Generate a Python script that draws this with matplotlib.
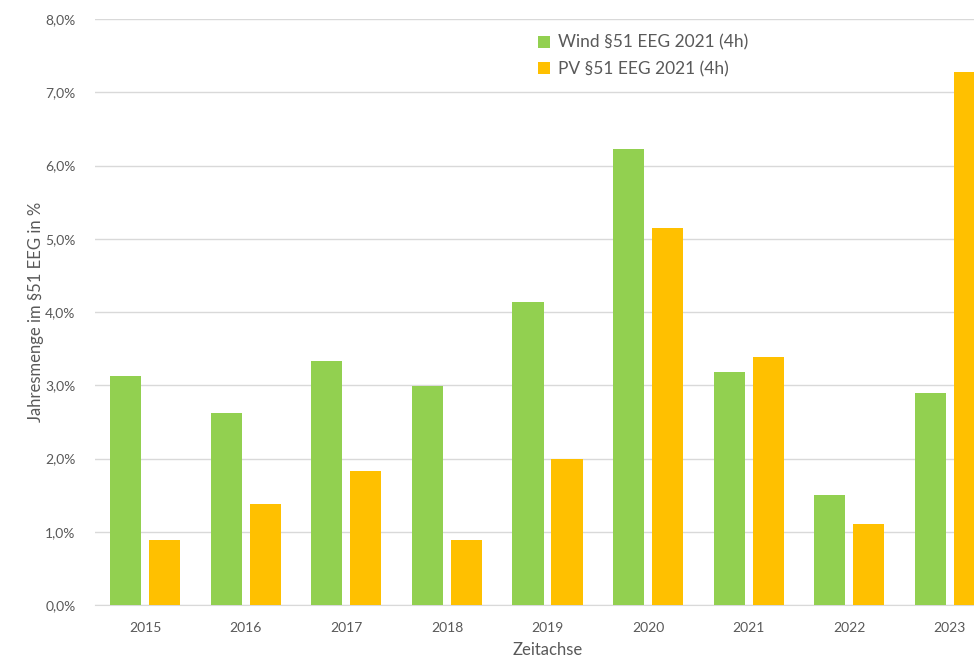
import numpy as np
import matplotlib.pyplot as plt
from matplotlib.ticker import FuncFormatter, MultipleLocator

years = ['2015', '2016', '2017', '2018', '2019', '2020', '2021', '2022', '2023']
wind = [3.13, 2.62, 3.33, 2.99, 4.14, 6.23, 3.18, 1.50, 2.89]
pv = [0.89, 1.38, 1.83, 0.89, 1.99, 5.14, 3.38, 1.11, 7.27]

green = '#92D050'
orange = '#FFC000'
grey = '#595959'

plt.rcParams['font.family'] = ['Lato', 'DejaVu Sans']

fig = plt.figure(figsize=(9.74, 6.61), dpi=100)
# axes run past the right edge, like the cropped original
ax = fig.add_axes([95/974, 56/661, 905/974, 586/661])

x = np.arange(len(years))
w = 0.31
ax.bar(x - 0.194, wind, w, color=green, label='Wind §51 EEG 2021 (4h)', zorder=3)
ax.bar(x + 0.194, pv, w, color=orange, label='PV §51 EEG 2021 (4h)', zorder=3)

ax.set_xlim(-0.5, 8.5)
ax.set_ylim(0, 8)
ax.yaxis.set_major_locator(MultipleLocator(1))
ax.yaxis.set_major_formatter(FuncFormatter(lambda v, p: f'{v:.1f}%'.replace('.', ',')))
ax.set_xticks(x)
ax.set_xticklabels(years)
ax.grid(axis='y', color='#D9D9D9', linewidth=1, zorder=0)
for s in ['top', 'right', 'left']:
    ax.spines[s].set_visible(False)
ax.spines['bottom'].set_color('#D9D9D9')
ax.tick_params(axis='both', length=0, colors=grey, labelsize=10)
ax.tick_params(axis='x', pad=12)
ax.tick_params(axis='y', pad=14)

ax.set_ylabel('Jahresmenge im §51 EEG in %', color=grey, fontsize=12, labelpad=1)
ax.set_xlabel('Zeitachse', color=grey, fontsize=12, labelpad=6)

leg = fig.legend(loc='upper left', bbox_to_anchor=(522/974, 1 - 19/661), frameon=False,
                 fontsize=12.5, handlelength=0.7, handleheight=0.7, handletextpad=0.5,
                 labelspacing=0.6, labelcolor=grey)

fig.savefig('out.png', dpi=100)
